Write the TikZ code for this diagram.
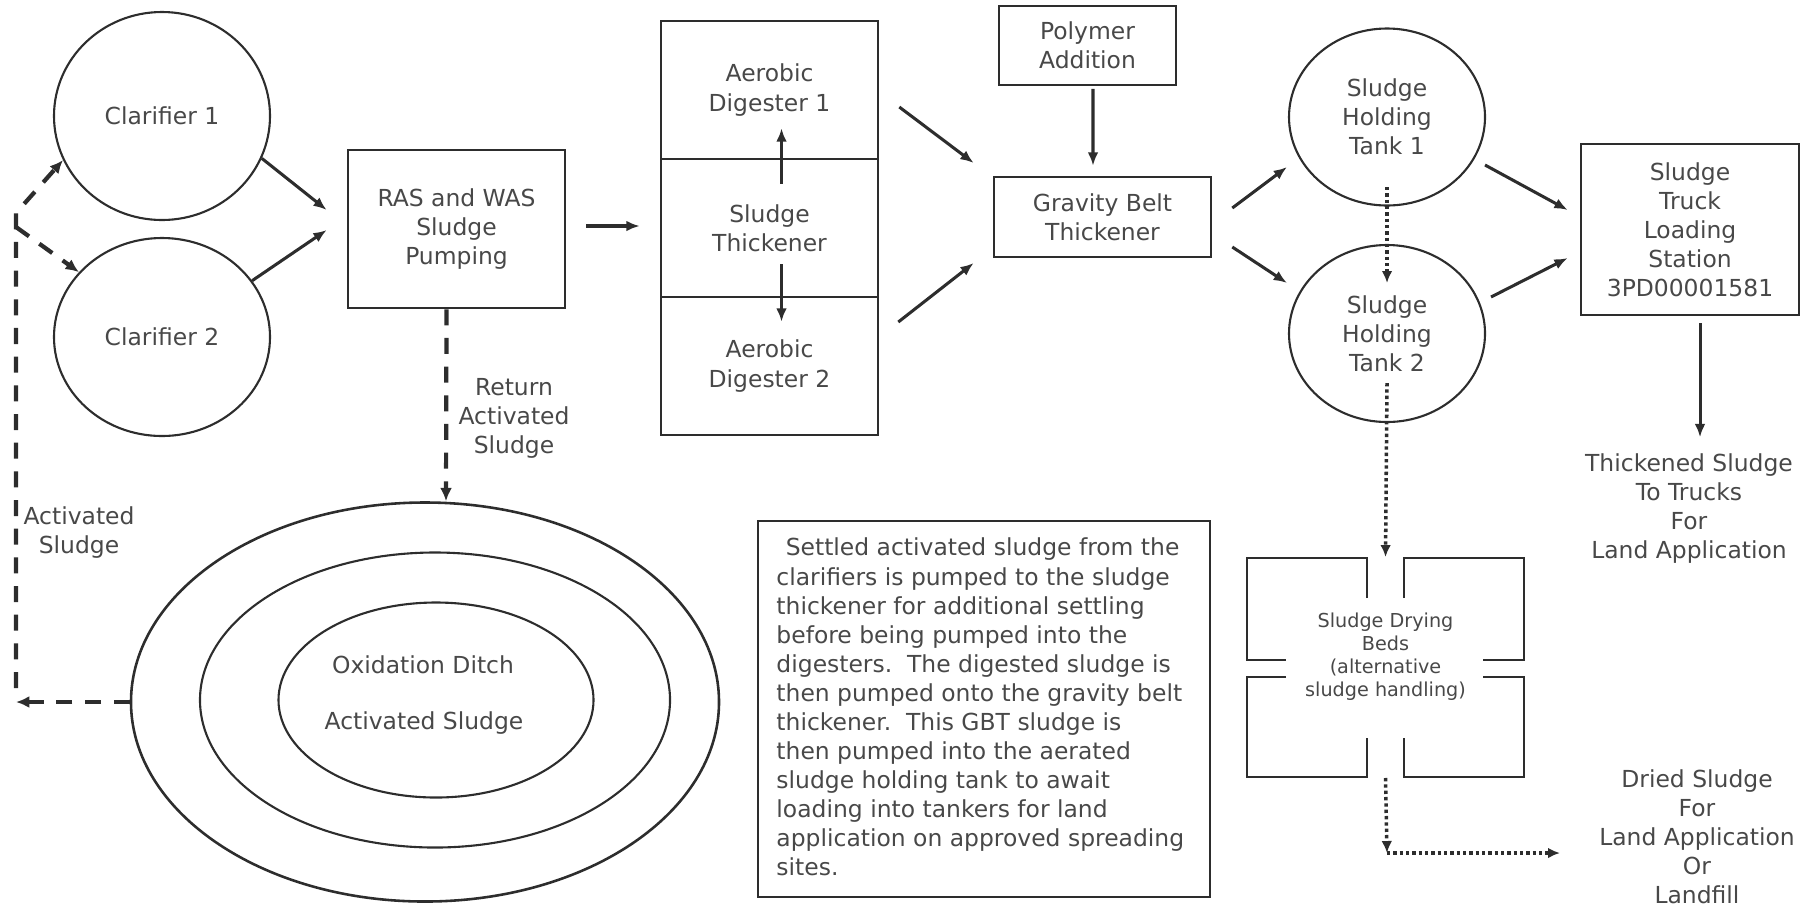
\documentclass[tikz,border=0pt]{standalone}
\usepackage{fontspec}
\setmainfont{DejaVu Sans}
\usetikzlibrary{arrows.meta,shapes.geometric}
\definecolor{linegray}{RGB}{45,45,45}
\definecolor{textgray}{RGB}{72,72,72}
\tikzset{every node/.style={font=\fontsize{10}{12.4}\selectfont,text=textgray,align=center},
 box/.style={draw=linegray,line width=1.1pt,rectangle,inner sep=0pt},
 tank/.style={draw=linegray,line width=0.9pt,ellipse,inner sep=0pt},
 flow/.style={-{Latex[length=2mm,width=1.6mm]},line width=1.3pt,draw=linegray},
 recycle/.style={-{Latex[length=2mm,width=1.8mm]},line width=1.8pt,draw=linegray,dash pattern=on 2.4mm off 1.9mm},
 drain/.style={-{Latex[length=1.8mm,width=1.6mm]},line width=1.5pt,draw=linegray,dash pattern=on 0.5mm off 0.45mm},
 bed/.style={draw=linegray,line width=1.1pt}}

\begin{document}
\begin{tikzpicture}[x=0.15mm,y=-0.15mm]
\useasboundingbox (0,0) rectangle (1816,907);
\node[tank,minimum width=32.4mm,minimum height=31.2mm] (clar1) at (162,116) {Clarifier 1};
\node[tank,minimum width=32.4mm,minimum height=29.7mm] (clar2) at (162,337) {Clarifier 2};
\node[box,minimum width=32.55mm,minimum height=23.7mm] (ras) at (456.5,229) {RAS and WAS\\Sludge\\Pumping};
\node[box,minimum width=32.55mm,minimum height=20.7mm] (dig1) at (769.5,90) {Aerobic\\Digester 1};
\node[box,minimum width=32.55mm,minimum height=20.7mm] (thick) at (769.5,228) {Sludge\\Thickener};
\node[box,minimum width=32.55mm,minimum height=20.7mm] (dig2) at (769.5,366) {Aerobic\\Digester 2};
\node[box,line width=0.8pt,minimum width=26.55mm,minimum height=11.85mm] (poly) at (1087.5,45.5) {Polymer\\Addition};
\node[box,minimum width=32.55mm,minimum height=12mm] (gbt) at (1102.5,217) {Gravity Belt\\Thickener};
\node[tank,minimum width=29.4mm,minimum height=26.55mm] (tank1) at (1387,117) {Sludge\\Holding\\Tank 1};
\node[tank,minimum width=29.4mm,minimum height=26.55mm] (tank2) at (1387,333.5) {Sludge\\Holding\\Tank 2};
\node[box,minimum width=32.7mm,minimum height=25.65mm] (truck) at (1690,229.5) {Sludge\\Truck\\Loading\\Station\\3PD00001581};
\node (trucks) at (1689,508.5) {Thickened Sludge\\To Trucks\\For\\Land Application};
\node[minimum width=41.55mm,minimum height=33mm,inner sep=0pt] (beds) at (1385.5,667.5) {};
\node[font=\fontsize{8.2}{9.8}\selectfont] (bedtxt) at (1385.5,657) {Sludge Drying\\Beds\\(alternative\\sludge handling)};
\node (dried) at (1697,836.5) {Dried Sludge\\For\\Land Application\\Or\\Landfill};
\node[tank,line width=1.1pt,minimum width=88.2mm,minimum height=59.85mm] (ditch) at (425,702) {};
\node[tank,minimum width=70.5mm,minimum height=44.25mm] (ditchmid) at (435,700) {};
\node[tank,minimum width=47.25mm,minimum height=29.25mm] (ditchin) at (436,700) {};
\node (oxd) at (423,665) {Oxidation Ditch};
\node (oxas) at (424,723) {Activated Sludge};
\node (retas) at (514,418) {Return\\Activated\\Sludge};
\node (clras) at (79,532.5) {Activated\\Sludge};
\node[box,line width=0.9pt,minimum width=67.8mm,minimum height=56.4mm] (desc) at (984,709) {};
\node[anchor=west,align=left,inner sep=0pt] (desctxt) at (776,707) {\hspace*{1.4mm}Settled activated sludge from the\\
clarifiers is pumped to the sludge\\thickener for additional settling\\before being pumped into the\\
digesters.\ \ The digested sludge is\\then pumped onto the gravity belt\\thickener.\ \ This GBT sludge is\\
then pumped into the aerated\\sludge holding tank to await\\loading into tankers for land\\
application on approved spreading\\sites.};
\coordinate (acret) at (16,702);
\coordinate (acbot) at (16,688);
\coordinate (actop) at (16,213);
\coordinate (acfork) at (16,227);
\coordinate (bend) at (1387,853);
\coordinate (driedin) at (1560,853);
\draw[bed] (1367,598) -- (1367,558) -- (1247,558) -- (1247,660) -- (1286,660);
\draw[bed] (1404,598) -- (1404,558) -- (1524,558) -- (1524,660) -- (1483,660);
\draw[bed] (1286,677) -- (1247,677) -- (1247,777) -- (1367,777) -- (1367,738);
\draw[bed] (1483,677) -- (1524,677) -- (1524,777) -- (1404,777) -- (1404,738);
\draw[flow] (clar1.-23) -- ([shift={(-20,-19)}]ras.west);
\draw[flow] (clar2.32) -- ([shift={(-20,1)}]ras.west);
\draw[flow] ([shift={(20,-3)}]ras.east) -- ([shift={(-20,-2)}]thick.west);
\draw[flow] ([shift={(12,26)}]thick.north) -- ([shift={(12,-32)}]dig1.south);
\draw[flow] ([shift={(12,-34)}]thick.south) -- ([shift={(12,26)}]dig2.north);
\draw[flow] ([shift={(20,17)}]dig1.east) -- ([shift={(-19,-54)}]gbt.west);
\draw[flow] ([shift={(19,-44)}]dig2.east) -- ([shift={(-19,46)}]gbt.west);
\draw[flow] ([shift={(5.5,3)}]poly.south) -- ([shift={(-9.5,-10)}]gbt.north);
\draw[flow] ([shift={(20,-9)}]gbt.east) -- ([shift={(-100,50)}]tank1.center);
\draw[flow] ([shift={(20,30)}]gbt.east) -- ([shift={(-100,-50.5)}]tank2.center);
\draw[flow] ([shift={(98,48)}]tank1.center) -- ([shift={(-12,-19.5)}]truck.west);
\draw[flow] ([shift={(104,-36.5)}]tank2.center) -- ([shift={(-12,28.5)}]truck.west);
\draw[flow] ([shift={(10,7)}]truck.south) -- ([shift={(11,-8)}]trucks.north);
\draw[drain] ([shift={(0,70)}]tank1.center) -- ([shift={(0,-50.5)}]tank2.center);
\draw[drain] ([shift={(0,49.5)}]tank2.center) -- (beds.north);
\draw[drain] (beds.south) -- (bend);
\draw[drain] (bend) -- (driedin);
\draw[recycle] ([shift={(-10,0)}]ras.south) -- ([shift={(21,0)}]ditch.north);
\draw[recycle] (ditch.west) -- (acret);
\draw[recycle] (acbot) -- (actop) -- (clar1.204);
\draw[recycle] (acfork) -- (clar2.142);
\end{tikzpicture}
\end{document}
